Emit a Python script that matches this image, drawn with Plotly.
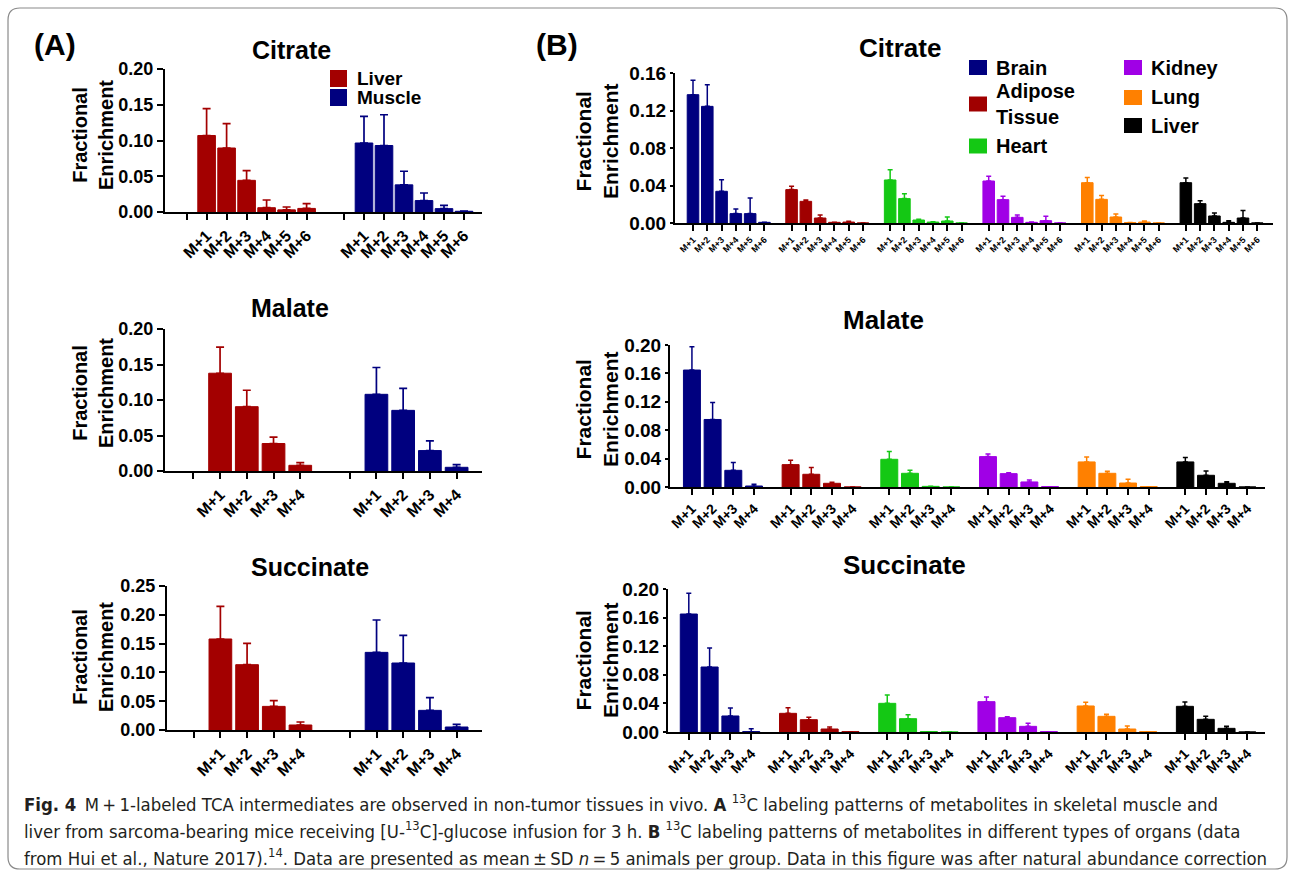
import plotly.graph_objects as go

W, H = 1295, 876

# ---------------- data ----------------
ISO6 = ["M+1", "M+2", "M+3", "M+4", "M+5", "M+6"]
ISO4 = ["M+1", "M+2", "M+3", "M+4"]

# Panel A : Liver vs Muscle (mean, SD)
A_GROUPS = ["Liver", "Muscle"]
A_cit_liver = [0.107, 0.0895, 0.0443, 0.006, 0.003, 0.005]
A_cit_liver_sd = [0.0375, 0.034, 0.0135, 0.0108, 0.004, 0.0067]
A_cit_muscle = [0.0965, 0.093, 0.038, 0.016, 0.0047, 0.001]
A_cit_muscle_sd = [0.0373, 0.043, 0.019, 0.0106, 0.0046, 0.0004]

A_mal_liver = [0.1377, 0.0906, 0.0387, 0.008]
A_mal_liver_sd = [0.0368, 0.0231, 0.0089, 0.0038]
A_mal_muscle = [0.108, 0.0854, 0.0288, 0.0052]
A_mal_muscle_sd = [0.0378, 0.0311, 0.0137, 0.0038]

A_suc_liver = [0.158, 0.1134, 0.041, 0.0087]
A_suc_liver_sd = [0.0567, 0.0371, 0.0099, 0.0052]
A_suc_muscle = [0.1348, 0.1163, 0.0341, 0.0052]
A_suc_muscle_sd = [0.0562, 0.0481, 0.022, 0.0046]

# Panel B : organs (rows: Brain, Adipose Tissue, Heart, Kidney, Lung, Liver)
B_ORGANS = ["Brain", "Adipose<br>Tissue", "Heart", "Kidney", "Lung", "Liver"]
B_cit_mean = [
    [0.1369, 0.1244, 0.0338, 0.0100, 0.0100, 0.0007],
    [0.0356, 0.0231, 0.0053, 0.0007, 0.0010, 0.0],
    [0.0459, 0.0260, 0.0032, 0.0010, 0.0021, 0.0],
    [0.0448, 0.0249, 0.0060, 0.0007, 0.0025, 0.0],
    [0.0430, 0.0252, 0.0064, 0.0004, 0.0010, 0.0],
    [0.0430, 0.0206, 0.0075, 0.0007, 0.0053, 0.0],
]
B_cit_sd = [
    [0.0153, 0.0232, 0.0124, 0.0049, 0.0167, 0.0],
    [0.0035, 0.0014, 0.0032, 0.0, 0.0008, 0.0],
    [0.0110, 0.0053, 0.0007, 0.0004, 0.0043, 0.0],
    [0.0050, 0.0035, 0.0025, 0.0003, 0.0046, 0.0],
    [0.0054, 0.0040, 0.0032, 0.0, 0.0011, 0.0],
    [0.0050, 0.0032, 0.0032, 0.0018, 0.0079, 0.0],
]
B_mal_mean = [
    [0.1647, 0.0951, 0.0235, 0.0014],
    [0.0315, 0.0179, 0.0052, 0.0],
    [0.0390, 0.0193, 0.0009, 0.0],
    [0.0428, 0.0188, 0.0071, 0.0005],
    [0.0353, 0.0193, 0.0056, 0.0005],
    [0.0353, 0.0165, 0.0052, 0.0],
]
B_mal_sd = [
    [0.0329, 0.0239, 0.0109, 0.0024],
    [0.0061, 0.0094, 0.0014, 0.0],
    [0.0109, 0.0042, 0.0, 0.0],
    [0.0038, 0.0014, 0.0028, 0.0],
    [0.0071, 0.0028, 0.0052, 0.0],
    [0.0061, 0.0061, 0.0023, 0.0],
]
B_suc_mean = [
    [0.1650, 0.0909, 0.0224, 0.0005],
    [0.0261, 0.0172, 0.0042, 0.0005],
    [0.0401, 0.0186, 0.0005, 0.0],
    [0.0424, 0.0200, 0.0079, 0.0005],
    [0.0364, 0.0219, 0.0042, 0.0005],
    [0.0359, 0.0177, 0.0051, 0.0],
]
B_suc_sd = [
    [0.0290, 0.0266, 0.0112, 0.0042],
    [0.0079, 0.0033, 0.0028, 0.0],
    [0.0116, 0.0056, 0.0, 0.0],
    [0.0066, 0.0014, 0.0042, 0.0],
    [0.0051, 0.0028, 0.0042, 0.0],
    [0.0061, 0.0042, 0.0028, 0.0],
]

# ---------------- styles ----------------
A_COLORS = ["#A30000", "#00007F"]
B_COLORS = ["#00007F", "#A00000", "#14C814", "#A000E6", "#FF8000", "#000000"]
FONT = "Liberation Sans, Arial, sans-serif"
NARROW = "Liberation Sans Narrow, Arial Narrow, DejaVu Sans Condensed, Liberation Sans, sans-serif"


def px_x(x):
    return x / W


def px_y(y):
    return 1 - y / H


fig = go.Figure()
layout_axes = {}


def setup_axes(n, xl, xr, ytop, ybot, xrange, yrange, ytickvals, tickvals, ticktext,
               blankvals, xfont, yfont, yticklen):
    sx = "" if n == 1 else str(n)
    layout_axes["xaxis" + sx] = dict(
        domain=[px_x(xl), px_x(xr)], range=xrange, anchor="y" + sx,
        showline=True, linecolor="black", linewidth=2, ticks="outside",
        ticklen=6, tickwidth=2, tickcolor="black", tickvals=tickvals,
        ticktext=ticktext, tickangle=-45, showgrid=False, zeroline=False,
        tickfont=dict(family=FONT, size=xfont, color="black", weight="bold"),
        minor=dict(tickvals=blankvals, ticks="outside", ticklen=6, tickwidth=2,
                   tickcolor="black", showgrid=False),
        fixedrange=True, automargin=False,
    )
    layout_axes["yaxis" + sx] = dict(
        domain=[px_y(ybot), px_y(ytop)], range=yrange, anchor="x" + sx,
        showline=True, linecolor="black", linewidth=2, ticks="outside",
        ticklen=yticklen, tickwidth=2, tickcolor="black", tickvals=ytickvals,
        tickformat=".2f", showgrid=False, zeroline=False,
        tickfont=dict(family=FONT, size=yfont, color="black", weight="bold"),
        fixedrange=True, automargin=False,
    )
    return sx


def add_bar(sx, xs, mean, sd, color, bw, capw, thick):
    fig.add_trace(go.Bar(
        x=xs, y=mean, width=bw, xaxis="x" + sx, yaxis="y" + sx,
        marker=dict(color=color, line=dict(color=color, width=1)),
        error_y=dict(type="data", symmetric=False, array=sd,
                     arrayminus=[0] * len(sd), color=color,
                     thickness=thick, width=capw),
        showlegend=False,
    ))


# ---- Panel A ----
def panel_A(n, xl, xr, ytop, ybot, xrange, ymax, ystep, labels, gap, series, bw):
    tickvals, ticktext, blanks = [], [], []
    for g in range(2):
        blanks.append(g * gap)
        for i, lab in enumerate(labels):
            tickvals.append(g * gap + i + 1)
            ticktext.append(lab)
    yt = [round(k * ystep, 3) for k in range(int(round(ymax / ystep)) + 1)]
    sx = setup_axes(n, xl, xr, ytop, ybot, xrange, [0, ymax], yt,
                    tickvals, ticktext, blanks, 16, 18, 6)
    for g, (mean, sd) in enumerate(series):
        xs = [g * gap + i + 1 for i in range(len(labels))]
        add_bar(sx, xs, mean, sd, A_COLORS[g], bw, 4, 1.7)


panel_A(1, 165, 482, 69, 212, [-1.08, 14.77], 0.20, 0.05, ISO6, 7.87,
        [(A_cit_liver, A_cit_liver_sd), (A_cit_muscle, A_cit_muscle_sd)], 0.88)
panel_A(2, 165, 482, 329, 471, [-1.06, 10.8], 0.20, 0.05, ISO4, 5.85,
        [(A_mal_liver, A_mal_liver_sd), (A_mal_muscle, A_mal_muscle_sd)], 0.85)
panel_A(3, 167, 482, 586, 730, [-1.0, 10.8], 0.25, 0.05, ISO4, 5.85,
        [(A_suc_liver, A_suc_liver_sd), (A_suc_muscle, A_suc_muscle_sd)], 0.85)


# ---- Panel B ----
def panel_B(n, xl, xr, ytop, ybot, xrange, ymax, labels, gap, means, sds, bw, xfont):
    tickvals, ticktext = [], []
    for g in range(len(B_ORGANS)):
        for i, lab in enumerate(labels):
            tickvals.append(g * gap + i)
            ticktext.append(lab)
    yt = [round(k * 0.04, 3) for k in range(int(round(ymax / 0.04)) + 1)]
    sx = setup_axes(n, xl, xr, ytop, ybot, xrange, [0, ymax], yt,
                    tickvals, ticktext, [], xfont, 19, 3)
    for g in range(len(B_ORGANS)):
        xs = [g * gap + i for i in range(len(labels))]
        add_bar(sx, xs, means[g], sds[g], B_COLORS[g], bw, 2.5, 1.5)


panel_B(4, 675, 1273, 73, 223, [-1.26, 40.6], 0.16, ISO6, 6.9,
        B_cit_mean, B_cit_sd, 0.81, 9)
panel_B(5, 670, 1265, 345, 487, [-1.06, 27.7], 0.20, ISO4, 4.77,
        B_mal_mean, B_mal_sd, 0.82, 14)
panel_B(6, 668, 1265, 589, 732, [-1.0, 27.7], 0.20, ISO4, 4.77,
        B_suc_mean, B_suc_sd, 0.82, 14)

# ---------------- annotations ----------------
ann = []


def text(x, y, s, size, family=FONT, bold=True, angle=0, xanchor="center", color="black"):
    ann.append(dict(
        x=px_x(x), y=px_y(y), xref="paper", yref="paper", text=s,
        showarrow=False, textangle=angle, xanchor=xanchor, yanchor="middle",
        align="left" if xanchor == "left" else "center",
        font=dict(family=family, size=size, color=color,
                  weight="bold" if bold else "normal"),
    ))


text(55, 45, "(A)", 30)
text(557, 45, "(B)", 30)

text(291, 50, "Citrate", 25)
text(290, 308, "Malate", 25)
text(310, 567, "Succinate", 25)
text(900, 48, "Citrate", 26)
text(883, 320, "Malate", 26)
text(904, 565, "Succinate", 26)

for yc in (135, 393, 657):
    text(93, yc, "Fractional<br>Enrichment", 20, angle=-90)
for yc in (141, 409, 660):
    text(597, yc, "Fractional<br>Enrichment", 21, angle=-90)

shapes = []


def square(x0, y0, x1, y1, color):
    shapes.append(dict(type="rect", xref="paper", yref="paper",
                       x0=px_x(x0), x1=px_x(x1), y0=px_y(y1), y1=px_y(y0),
                       fillcolor=color, line=dict(width=0)))


# legend A
for name, color, yc in zip(A_GROUPS, A_COLORS, (78.5, 97.5)):
    square(330, yc - 8.5, 347, yc + 8.5, color)
    text(355, yc, name, 19, xanchor="left")

# legend B
B_leg_pos = [(969, 67.5), (969, 104), (969, 146), (1124, 67.5), (1124, 97.5), (1124, 125.5)]
for name, color, (xs, yc) in zip(B_ORGANS, B_COLORS, B_leg_pos):
    square(xs, yc - 7.5, xs + 18, yc + 7.5, color)
    text(xs + 25, yc, name, 20, xanchor="left")

# caption
cap = [
    "<b>Fig. 4</b>\u2002M\u2009+\u20091-labeled TCA intermediates are observed in non-tumor tissues in vivo. "
    "<b>A</b> <sup>13</sup>C labeling patterns of metabolites in skeletal muscle and",
    "liver from sarcoma-bearing mice receiving [U-<sup>13</sup>C]-glucose infusion for 3 h. "
    "<b>B</b> <sup>13</sup>C labeling patterns of metabolites in different types of organs (data",
    "from Hui et al., Nature 2017).<sup>14</sup>. Data are presented as mean\u2009\u00b1\u2009SD "
    "<i>n</i>\u2009=\u20095 animals per group. Data in this figure was after natural abundance correction",
]
for line, yc in zip(cap, (803, 830, 857)):
    text(22, yc, line, 18.4, family=NARROW, bold=False, xanchor="left", color="#231F20")


# rounded frame
def frame_path(x0, y0, x1, y1, r):
    def P(x, y):
        return f"{px_x(x):.5f},{px_y(y):.5f}"
    return (f"M{P(x0 + r, y0)} L{P(x1 - r, y0)} Q{P(x1, y0)} {P(x1, y0 + r)} "
            f"L{P(x1, y1 - r)} Q{P(x1, y1)} {P(x1 - r, y1)} L{P(x0 + r, y1)} "
            f"Q{P(x0, y1)} {P(x0, y1 - r)} L{P(x0, y0 + r)} Q{P(x0, y0)} {P(x0 + r, y0)} Z")


shapes.append(dict(type="path", xref="paper", yref="paper",
                   path=frame_path(8, 8, 1287, 869, 12),
                   line=dict(color="#8a8a8a", width=1.2)))

fig.update_layout(
    template="none",
    width=W, height=H, autosize=False,
    margin=dict(l=0, r=0, t=0, b=0, pad=0, autoexpand=False),
    paper_bgcolor="white", plot_bgcolor="white",
    barmode="overlay", showlegend=False,
    annotations=ann, shapes=shapes,
    font=dict(family=FONT, color="black"),
    **layout_axes,
)

fig.write_html(
    "out.html",
    config={"displayModeBar": False},
    post_script=(
        "document.documentElement.style.margin='0';"
        "document.body.style.margin='0';"
        "document.body.style.overflow='hidden';"
        "var d=document.getElementById('{plot_id}');"
        "d.style.position='fixed';d.style.left='0px';d.style.top='0px';"
    ),
)
